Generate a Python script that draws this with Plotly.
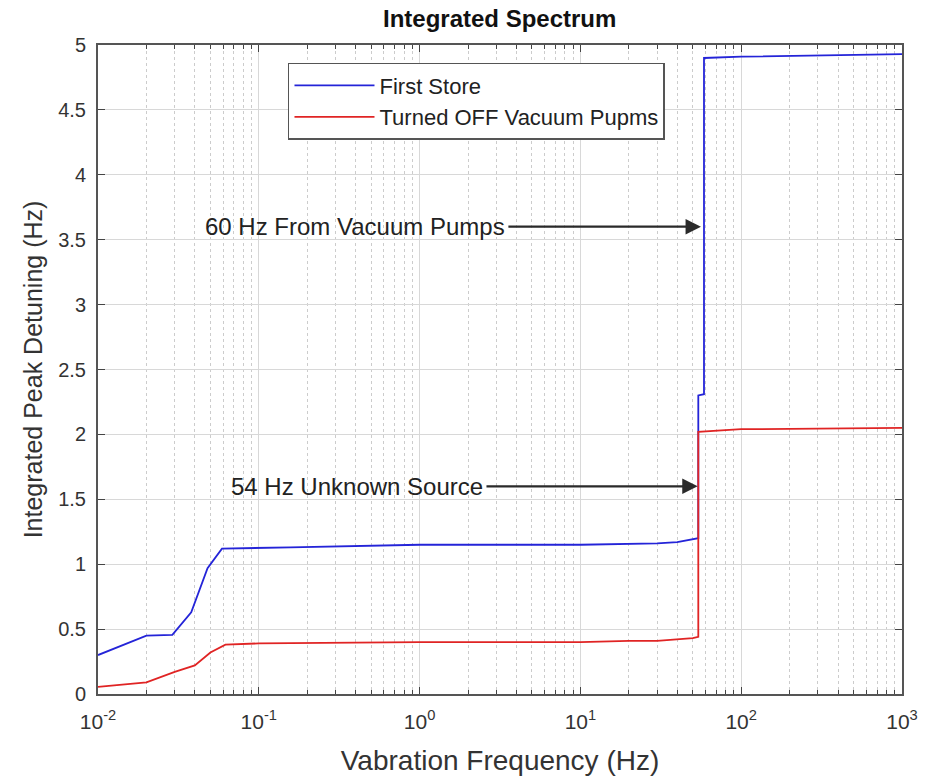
import plotly.graph_objects as go
import numpy as np

# ---- data ----
first_store_x = [0.01, 0.02, 0.029, 0.038, 0.048, 0.059, 0.157, 1, 10, 30, 40, 50, 54.1, 54.1, 58.7, 58.7, 100, 1000]
first_store_y = [0.30, 0.45, 0.455, 0.63, 0.97, 1.12, 1.13, 1.15, 1.15, 1.16, 1.17, 1.19, 1.20, 2.30, 2.31, 4.90, 4.91, 4.93]

pumps_off_x = [0.01, 0.02, 0.03, 0.04, 0.05, 0.062, 0.1, 1, 10, 20, 30, 40, 50, 54.1, 54.1, 100, 1000]
pumps_off_y = [0.055, 0.09, 0.17, 0.22, 0.32, 0.38, 0.39, 0.40, 0.40, 0.41, 0.41, 0.42, 0.43, 0.44, 2.02, 2.04, 2.05]

series_names = ["First Store", "Turned OFF Vacuum Pupms"]
series_colors = ["#2424d8", "#e02424"]

x_tickvals = [0.01, 0.1, 1, 10, 100, 1000]
x_ticktext = ["10<sup>-2</sup>", "10<sup>-1</sup>", "10<sup>0</sup>", "10<sup>1</sup>", "10<sup>2</sup>", "10<sup>3</sup>"]

annot_texts = ["60 Hz From Vacuum Pumps", "54 Hz Unknown Source"]
annot_y = [3.6, 1.6]
annot_tail_x = [3.49, 2.55]     # Hz, arrow tail (end of text)
annot_head_x = [56.2, 53.6]     # Hz, arrow tip

FONT = "Liberation Sans, Arial, sans-serif"

fig = go.Figure()
for xs, ys, name, col in [(first_store_x, first_store_y, series_names[0], series_colors[0]),
                          (pumps_off_x, pumps_off_y, series_names[1], series_colors[1])]:
    fig.add_trace(go.Scatter(x=xs, y=ys, mode="lines", name=name,
                             line=dict(color=col, width=1.8)))

for txt, yv, tx, hx in zip(annot_texts, annot_y, annot_tail_x, annot_head_x):
    fig.add_annotation(x=np.log10(tx), y=yv, xref="x", yref="y", text=txt,
                       showarrow=False, xanchor="right", yanchor="middle",
                       font=dict(family=FONT, size=24, color="#222"))
    fig.add_annotation(x=np.log10(hx), y=yv, ax=np.log10(tx), ay=yv,
                       xref="x", yref="y", axref="x", ayref="y", text="",
                       showarrow=True, arrowhead=2, arrowsize=1.4, arrowwidth=2.2,
                       arrowcolor="#2a2a2a")

axis_common = dict(showline=True, linecolor="#555", linewidth=2, mirror="allticks",
                   ticks="inside", tickcolor="#444", ticklen=7, tickwidth=1,
                   gridcolor="#d8d8d8", gridwidth=1, zeroline=False, automargin=False)

fig.update_xaxes(type="log", range=[-2, 3], tickmode="array", tickvals=x_tickvals,
                 ticktext=x_ticktext, ticklabelstandoff=8,
                 tickfont=dict(family=FONT, size=21, color="#333"),
                 minor=dict(dtick="D1", ticks="inside", ticklen=4, tickcolor="#444",
                            showgrid=True, gridcolor="#cccccc", griddash="dot", gridwidth=1),
                 title=dict(text="Vabration Frequency (Hz)", standoff=18,
                            font=dict(family=FONT, size=28, color="#333")),
                 **axis_common)
fig.update_yaxes(range=[0, 5], dtick=0.5, ticklabelstandoff=6,
                 tickfont=dict(family=FONT, size=20, color="#333"),
                 title=dict(text="Integrated Peak Detuning (Hz)", standoff=8,
                            font=dict(family=FONT, size=25, color="#333")),
                 **axis_common)

fig.update_layout(
    width=934, height=780,
    margin=dict(l=98, r=32, t=45, b=86),
    paper_bgcolor="white", plot_bgcolor="white",
    title=dict(text="<b>Integrated Spectrum</b>", x=0.535, xanchor="center",
               y=1 - 19 / 780, yanchor="middle", yref="container",
               font=dict(family=FONT, size=24, color="#111")),
    legend=dict(x=0.2363, y=0.9723, xanchor="left", yanchor="top",
                bgcolor="white", bordercolor="#555", borderwidth=1.5,
                font=dict(family=FONT, size=22, color="#222"),
                itemwidth=80, tracegroupgap=0),
    showlegend=True,
)

fig.write_html("out.html")
